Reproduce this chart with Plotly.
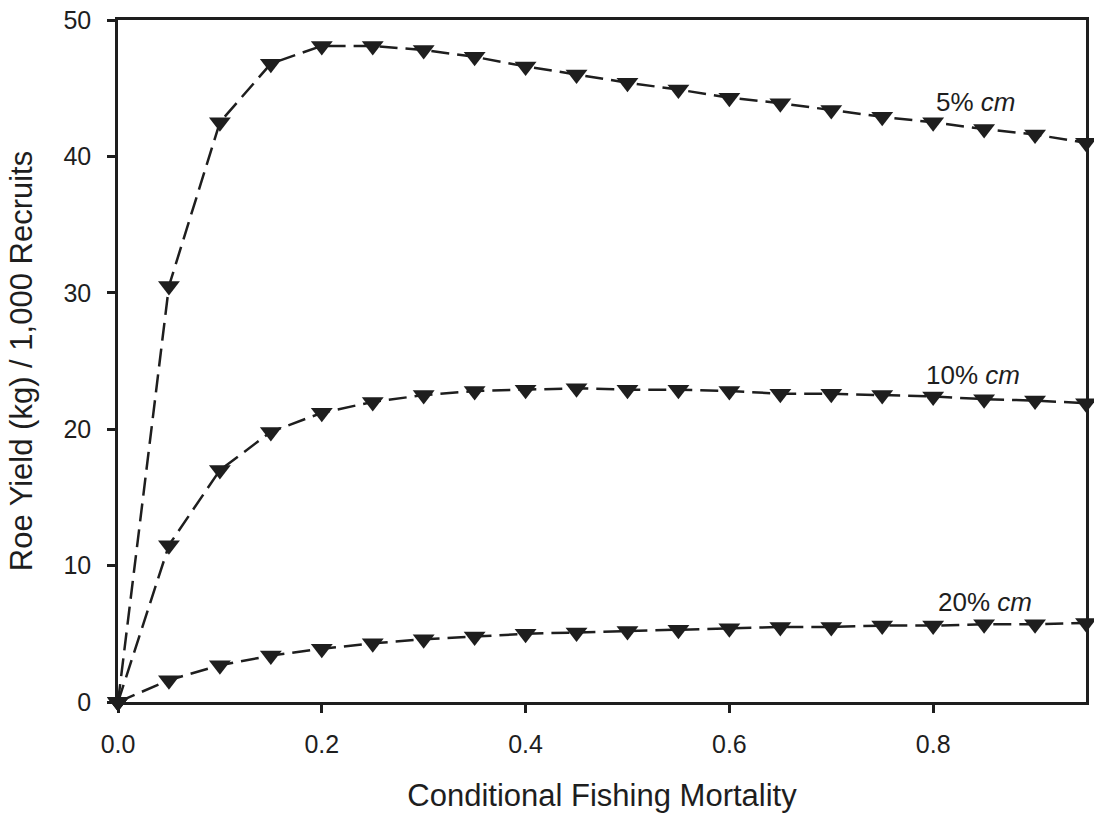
import plotly.graph_objects as go

F = [0.0, 0.05, 0.10, 0.15, 0.20, 0.25, 0.30, 0.35, 0.40, 0.45,
     0.50, 0.55, 0.60, 0.65, 0.70, 0.75, 0.80, 0.85, 0.90, 0.95]

cm5 = [0.0, 30.5, 42.5, 46.8, 48.1, 48.1, 47.8, 47.3, 46.6, 46.0,
       45.4, 44.9, 44.3, 43.9, 43.4, 42.9, 42.5, 42.0, 41.6, 41.0]
cm10 = [0.0, 11.5, 17.0, 19.8, 21.2, 22.0, 22.5, 22.8, 22.9, 23.0,
        22.9, 22.9, 22.8, 22.6, 22.6, 22.5, 22.4, 22.2, 22.1, 21.9]
cm20 = [0.0, 1.6, 2.7, 3.4, 3.9, 4.3, 4.6, 4.8, 5.0, 5.1,
        5.2, 5.3, 5.4, 5.5, 5.5, 5.6, 5.6, 5.7, 5.7, 5.8]

labels = ["5% <i>cm</i>", "10% <i>cm</i>", "20% <i>cm</i>"]
label_x = [0.842, 0.839, 0.851]
label_y = [44.0, 24.0, 7.3]

x_ticks = [0.0, 0.2, 0.4, 0.6, 0.8]
x_ticktext = ["0.0", "0.2", "0.4", "0.6", "0.8"]
y_ticks = [0, 10, 20, 30, 40, 50]

FONT = "Liberation Sans, Arial, sans-serif"
INK = "#1e1e1e"

fig = go.Figure()
for ys in (cm5, cm10, cm20):
    fig.add_trace(go.Scatter(
        x=F, y=ys, mode="lines+markers", cliponaxis=False,
        line=dict(color=INK, width=2.5, dash="18px,8px"),
        marker=dict(symbol="triangle-down", size=19, color=INK),
        showlegend=False,
    ))

for t, xx, yy in zip(labels, label_x, label_y):
    fig.add_annotation(x=xx, y=yy, xref="x", yref="y", text=t, showarrow=False,
                       font=dict(family=FONT, size=26, color=INK))

fig.update_layout(
    width=1094, height=816,
    margin=dict(l=118, r=5, t=20, b=114),
    paper_bgcolor="white", plot_bgcolor="white",
    font=dict(family=FONT, size=25, color=INK),
)
fig.update_xaxes(
    range=[0, 0.95], tickvals=x_ticks, ticktext=x_ticktext,
    tickfont=dict(size=25),
    showgrid=False, zeroline=False,
    showline=True, linecolor=INK, linewidth=2.5, mirror=True,
    ticks="outside", ticklen=8, tickwidth=2.5, tickcolor=INK,
    ticklabelstandoff=10,
    title=dict(text="Conditional Fishing Mortality", font=dict(size=31), standoff=28),
)
fig.update_yaxes(
    range=[0, 50], tickvals=y_ticks,
    tickfont=dict(size=25),
    showgrid=False, zeroline=False,
    showline=True, linecolor=INK, linewidth=2.5, mirror=True,
    ticks="outside", ticklen=8, tickwidth=2.5, tickcolor=INK,
    ticklabelstandoff=11,
    title=dict(text="Roe Yield (kg) / 1,000 Recruits", font=dict(size=31), standoff=22),
)

fig.write_html("out.html")
